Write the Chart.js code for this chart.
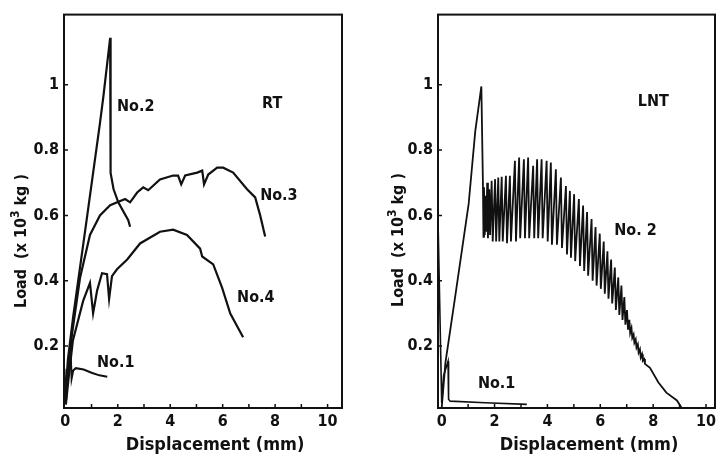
<!DOCTYPE html>
<html>
<head>
<meta charset="utf-8">
<title>Load - displacement curves, RT and LNT</title>
<script src="https://cdn.jsdelivr.net/npm/chart.js@4.4.1/dist/chart.umd.min.js"></script>
<style>
  html, body { margin: 0; padding: 0; background: #fff; }
  #wrap { position: relative; width: 723px; height: 458px; overflow: hidden; }
  #rtChart { position: absolute; left: 0; top: 0; }
  #lntChart { position: absolute; left: 361px; top: 0; }
</style>
</head>
<body>
<div id="wrap">
  <canvas id="rtChart" width="361" height="458"></canvas>
  <canvas id="lntChart" width="362" height="458"></canvas>
</div>
<script>
// Displacement (mm), Load (x 10^3 kg)
const rtNo1 = [[-0.03, 0.13], [0.0, 0.05], [0.1, 0.14], [0.2, 0.185], [0.24, 0.1], [0.3, 0.125],
  [0.4, 0.132], [0.7, 0.128], [1.0, 0.118], [1.3, 0.11], [1.6, 0.106]];
const rtNo2 = [[0.0, 0.04], [0.1, 0.16], [0.3, 0.29], [0.56, 0.44], [0.82, 0.59],
  [1.32, 0.882], [1.45, 0.963], [1.71, 1.144], [1.73, 1.085], [1.71, 0.78], [1.74, 0.73],
  [1.84, 0.68], [2.02, 0.64], [2.4, 0.585], [2.47, 0.565]];
const rtNo3 = [[0.02, 0.03], [0.12, 0.13], [0.26, 0.239], [0.56, 0.408], [0.94, 0.54], [1.32, 0.6],
  [1.71, 0.631], [2.28, 0.65], [2.47, 0.64], [2.74, 0.67], [2.97, 0.686], [3.16, 0.677],
  [3.61, 0.71], [4.11, 0.722], [4.3, 0.722], [4.42, 0.695], [4.57, 0.722], [5.03, 0.731],
  [5.22, 0.737], [5.29, 0.695], [5.45, 0.725], [5.79, 0.746], [6.02, 0.746], [6.4, 0.731],
  [6.93, 0.68], [7.24, 0.655], [7.43, 0.6], [7.62, 0.535]];
const rtNo4 = [[0.02, 0.02], [0.15, 0.12], [0.29, 0.217], [0.68, 0.338], [0.94, 0.393], [1.06, 0.3],
  [1.21, 0.369], [1.4, 0.423], [1.59, 0.42], [1.67, 0.344], [1.78, 0.414], [1.97, 0.435],
  [2.36, 0.465], [2.85, 0.514], [3.61, 0.55], [4.11, 0.556], [4.64, 0.54], [5.14, 0.498],
  [5.22, 0.474], [5.64, 0.45], [5.98, 0.378], [6.29, 0.299], [6.78, 0.227]];

const lntNo1 = [[-0.14, 0.59], [0.0, 0.025], [0.07, 0.108], [0.24, 0.153], [0.26, 0.037],
  [0.32, 0.031], [1.65, 0.026], [3.22, 0.021]];
const lntNo2 = [[0.0, 0.01], [0.14, 0.148], [0.51, 0.351], [1.02, 0.635], [1.27, 0.858],
  [1.39, 0.929], [1.5, 0.995], [1.56, 0.696], [1.58, 0.534],
  [1.6, 0.686], [1.63, 0.54], [1.66, 0.66], [1.69, 0.55], [1.72, 0.7], [1.75, 0.53],
  [1.8, 0.68], [1.83, 0.54], [1.89, 0.706], [1.93, 0.52], [2.02, 0.711], [2.06, 0.52],
  [2.14, 0.716], [2.18, 0.52], [2.27, 0.718], [2.31, 0.52], [2.43, 0.721], [2.47, 0.515],
  [2.58, 0.721], [2.62, 0.52], [2.77, 0.767], [2.81, 0.52], [2.93, 0.777], [2.97, 0.53],
  [3.11, 0.772], [3.15, 0.53], [3.27, 0.777], [3.31, 0.53], [3.46, 0.752], [3.5, 0.53],
  [3.61, 0.772], [3.65, 0.53], [3.78, 0.772], [3.82, 0.53], [3.97, 0.767], [4.01, 0.52],
  [4.13, 0.762], [4.17, 0.51], [4.32, 0.741], [4.36, 0.51], [4.51, 0.716], [4.55, 0.5],
  [4.7, 0.69], [4.74, 0.48], [4.85, 0.675], [4.89, 0.47], [5.01, 0.665], [5.05, 0.46],
  [5.19, 0.65], [5.23, 0.445], [5.35, 0.63], [5.39, 0.43], [5.5, 0.61], [5.54, 0.415],
  [5.67, 0.589], [5.71, 0.4], [5.82, 0.564], [5.86, 0.385], [5.98, 0.544], [6.02, 0.375],
  [6.13, 0.52], [6.17, 0.36], [6.27, 0.49], [6.31, 0.345], [6.41, 0.465], [6.45, 0.33],
  [6.55, 0.44], [6.59, 0.31], [6.68, 0.41], [6.72, 0.295], [6.8, 0.385], [6.84, 0.28],
  [6.91, 0.35], [6.95, 0.265], [7.01, 0.31], [7.05, 0.25], [7.1, 0.28], [7.13, 0.24],
  [7.18, 0.255], [7.21, 0.225], [7.26, 0.235], [7.29, 0.21], [7.34, 0.22], [7.37, 0.195],
  [7.42, 0.205], [7.45, 0.18], [7.5, 0.19], [7.53, 0.165], [7.58, 0.175], [7.61, 0.155],
  [7.66, 0.16], [7.69, 0.145], [7.88, 0.133], [8.2, 0.088], [8.5, 0.057], [8.9, 0.033],
  [9.08, 0.01]];

const xTickValues = [0, 2, 4, 6, 8, 10];
const xMarkValues = [1, 2, 3, 4, 5, 6, 7, 8, 9, 10];
const yTickValues = [0.2, 0.4, 0.6, 0.8, 1];
const yTickText = ['0.2', '0.4', '0.6', '0.8', '1'];

const ink = '#111';
const family = '"DejaVu Sans Condensed", "DejaVu Sans", sans-serif';

const toPoints = (arr) => arr.map(([x, y]) => ({ x: x, y: y }));

// frame, inward tick marks, axis titles and curve labels
const paperPlugin = {
    id: 'paper',
    afterDraw: (chart, args, opts) => {
        const ctx = chart.ctx;
        const a = chart.chartArea;
        const xs = chart.scales.x;
        const ys = chart.scales.y;
        ctx.save();
        ctx.strokeStyle = ink;
        ctx.lineWidth = 2;
        ctx.strokeRect(a.left, a.top, a.right - a.left, a.bottom - a.top);

        ctx.lineWidth = 1.5;
        ctx.beginPath();
        xMarkValues.forEach(v => {
            const px = xs.getPixelForValue(v);
            ctx.moveTo(px, a.bottom);
            ctx.lineTo(px, a.bottom - 4);
        });
        yTickValues.forEach(v => {
            const py = ys.getPixelForValue(v);
            ctx.moveTo(a.left, py);
            ctx.lineTo(a.left + 4, py);
        });
        ctx.stroke();

        ctx.fillStyle = ink;
        ctx.textBaseline = 'middle';
        ctx.textAlign = 'left';
        ctx.font = 'bold 16px ' + family;
        opts.notes.forEach(n => {
            ctx.fillText(n.text, xs.getPixelForValue(n.x), ys.getPixelForValue(n.y));
        });

        // x title
        ctx.textAlign = 'center';
        ctx.font = 'bold 18px ' + family;
        ctx.fillText('Displacement (mm)', opts.xTitle[0], opts.xTitle[1]);

        // y title with superscript
        ctx.translate(opts.yTitle[0], opts.yTitle[1]);
        ctx.rotate(-Math.PI / 2);
        ctx.textAlign = 'left';
        const parts = [['Load  (x 10', 'bold 16px ', 0], ['3', 'bold 12px ', -6], [' kg )', 'bold 16px ', 0]];
        let total = 0;
        parts.forEach(p => { ctx.font = p[1] + family; total += ctx.measureText(p[0]).width; });
        let tx = -total / 2;
        parts.forEach(p => {
            ctx.font = p[1] + family;
            ctx.fillText(p[0], tx, p[2]);
            tx += ctx.measureText(p[0]).width;
        });
        ctx.restore();
    }
};

function makeChart(canvasId, datasets, cfg) {
    return new Chart(document.getElementById(canvasId), {
        type: 'scatter',
        data: { datasets: datasets },
        options: {
            responsive: false,
            animation: false,
            layout: { padding: { left: 0, right: cfg.padRight, top: 10, bottom: 0 } },
            plugins: {
                legend: { display: false },
                tooltip: { enabled: false },
                paper: { notes: cfg.notes, xTitle: cfg.xTitle, yTitle: cfg.yTitle }
            },
            elements: { point: { radius: 0 }, line: { tension: 0 } },
            scales: {
                x: {
                    type: 'linear',
                    min: cfg.xMin,
                    max: cfg.xMax,
                    grid: { display: false, drawTicks: false },
                    border: { display: false },
                    afterBuildTicks: (s) => { s.ticks = xTickValues.map(v => ({ value: v })); },
                    afterFit: (s) => { s.height = 50; },
                    ticks: {
                        padding: 4,
                        color: ink,
                        maxRotation: 0,
                        autoSkip: false,
                        font: { family: family, size: 16, weight: 'bold' },
                        callback: (v) => String(v)
                    }
                },
                y: {
                    type: 'linear',
                    min: 0.01,
                    max: 1.215,
                    grid: { display: false, drawTicks: false },
                    border: { display: false },
                    afterBuildTicks: (s) => { s.ticks = yTickValues.map(v => ({ value: v })); },
                    afterFit: (s) => { s.width = cfg.yWidth; },
                    ticks: {
                        padding: 5,
                        color: ink,
                        autoSkip: false,
                        font: { family: family, size: 16, weight: 'bold' },
                        callback: (v) => yTickText[yTickValues.indexOf(v)]
                    }
                }
            }
        },
        plugins: [paperPlugin]
    });
}

const line = (pts, w) => ({
    data: toPoints(pts),
    showLine: true,
    borderColor: ink,
    borderWidth: w,
    pointRadius: 0,
    fill: false
});

makeChart('rtChart', [line(rtNo1, 2), line(rtNo2, 2.2), line(rtNo3, 2.2), line(rtNo4, 2.2)], {
    xMin: -0.05, xMax: 10.55, yWidth: 64, padRight: 19,
    xTitle: [215, 445], yTitle: [22, 241],
    notes: [
        { text: 'No.2', x: 1.97, y: 0.933 },
        { text: 'RT', x: 7.5, y: 0.942 },
        { text: 'No.3', x: 7.43, y: 0.661 },
        { text: 'No.4', x: 6.55, y: 0.346 },
        { text: 'No.1', x: 1.21, y: 0.149 }
    ]
});

makeChart('lntChart', [line(lntNo1, 1.6), line(lntNo2, 1.8)], {
    xMin: -0.14, xMax: 10.34, yWidth: 77, padRight: 8,
    xTitle: [228, 445], yTitle: [38, 240],
    notes: [
        { text: 'LNT', x: 7.42, y: 0.948 },
        { text: 'No. 2', x: 6.53, y: 0.554 },
        { text: 'No.1', x: 1.37, y: 0.085 }
    ]
});
</script>
</body>
</html>
